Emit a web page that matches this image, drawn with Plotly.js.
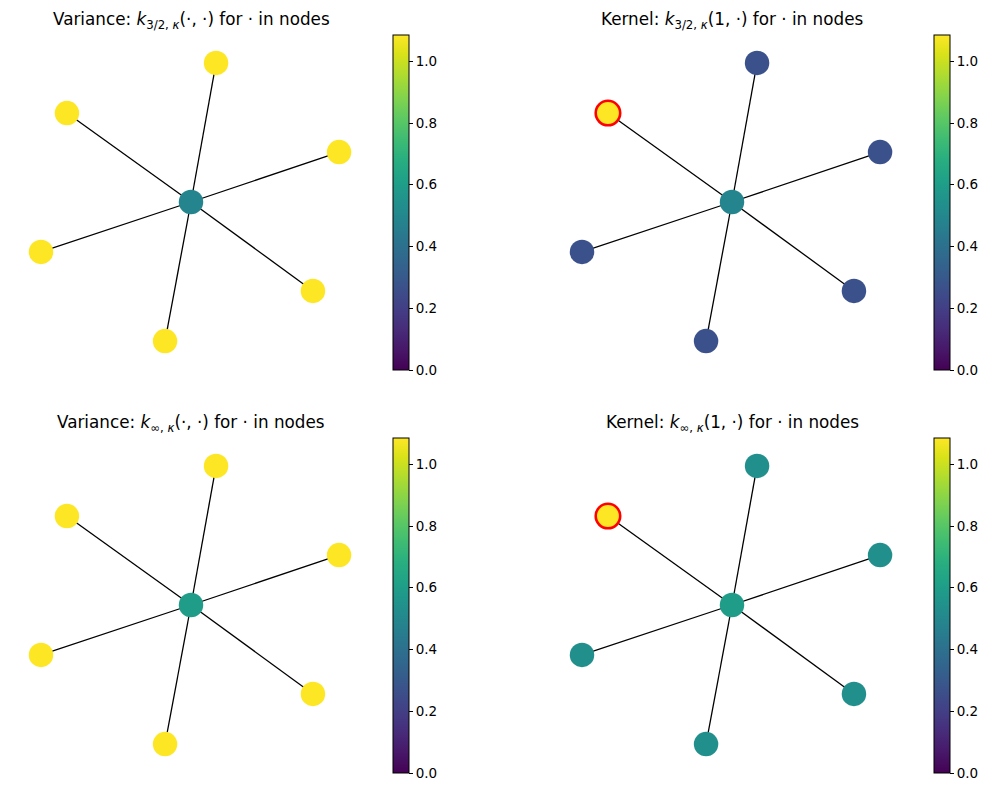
<!DOCTYPE html>
<html>
<head>
<meta charset="utf-8">
<script src="https://cdn.plot.ly/plotly-3.0.1.min.js"></script>
<style>body{margin:0;background:#fff}#chart{width:992px;height:792px}</style>
</head>
<body>
<div id="chart"></div>
<script>
// Node layout (star graph, node 0 = hub)
var nodeIds = [0, 1, 2, 3, 4, 5, 6];
var nodeX = [0, -0.827, 0.167, 0.987, 0.813, -0.173, -1.0];
var nodeY = [0, 0.593, 0.927, 0.333, -0.593, -0.927, -0.333];
var edgeFrom = [0, 0, 0, 0, 0, 0];
var edgeTo = [1, 2, 3, 4, 5, 6];
var highlightNode = 1;

// Values per node
var variance32 = [0.49, 1.085, 1.085, 1.085, 1.085, 1.085, 1.085];
var kernel32   = [0.49, 1.085, 0.27, 0.27, 0.27, 0.27, 0.27];
var varianceInf = [0.60, 1.085, 1.085, 1.085, 1.085, 1.085, 1.085];
var kernelInf   = [0.60, 1.085, 0.54, 0.54, 0.54, 0.54, 0.54];

var colorMin = 0, colorMax = 1.085;
var cbTicks = [0, 0.2, 0.4, 0.6, 0.8, 1.0];
var cbTickText = ["0.0", "0.2", "0.4", "0.6", "0.8", "1.0"];

var titles = [
  "Variance: <i>k</i><sub>3/2, <i>κ</i></sub>(·, ·) for · in nodes",
  "Kernel: <i>k</i><sub>3/2, <i>κ</i></sub>(1, ·) for · in nodes",
  "Variance: <i>k</i><sub>∞, <i>κ</i></sub>(·, ·) for · in nodes",
  "Kernel: <i>k</i><sub>∞, <i>κ</i></sub>(1, ·) for · in nodes"
];
var panelValues = [variance32, kernel32, varianceInf, kernelInf];
var highlighted = [false, true, false, true];

var W = 992, H = 792;
var S = 150; // px per data unit
// panel centres (px)
var centres = [[191, 202], [732, 202], [191, 605], [732, 605]];
var half = 170;  // domain half-width px
var halfH = 169;

var edgeXs = [], edgeYs = [];
for (var i = 0; i < edgeFrom.length; i++) {
  edgeXs.push(nodeX[edgeFrom[i]], nodeX[edgeTo[i]], null);
  edgeYs.push(nodeY[edgeFrom[i]], nodeY[edgeTo[i]], null);
}

var data = [];
var layout = {
  width: W, height: H,
  margin: {l: 0, r: 0, t: 0, b: 0},
  paper_bgcolor: "#fff", plot_bgcolor: "#fff",
  showlegend: false,
  font: {family: "DejaVu Sans", color: "#000"},
  annotations: []
};

for (var p = 0; p < 4; p++) {
  var ax = p === 0 ? "" : String(p + 1);
  var cx = centres[p][0], cy = centres[p][1];
  var x0 = cx - half, x1 = cx + half;
  var y0 = cy - halfH, y1 = cy + halfH;
  layout["xaxis" + ax] = {
    domain: [x0 / W, x1 / W],
    range: [(x0 - cx) / S, (x1 - cx) / S],
    visible: false, fixedrange: true
  };
  layout["yaxis" + ax] = {
    domain: [1 - y1 / H, 1 - y0 / H],
    range: [-(y1 - cy) / S, -(y0 - cy) / S],
    visible: false, fixedrange: true
  };
  data.push({
    type: "scatter", mode: "lines",
    x: edgeXs, y: edgeYs,
    xaxis: "x" + ax, yaxis: "y" + ax,
    line: {color: "#000", width: 1.3},
    hoverinfo: "skip"
  });
  var lw = [], lc = [];
  for (var n = 0; n < nodeIds.length; n++) {
    var h = highlighted[p] && nodeIds[n] === highlightNode;
    lw.push(h ? 2.6 : 0);
    lc.push(h ? "#ff0000" : "rgba(0,0,0,0)");
  }
  var cbLeft = cx + 202, cbTop = cy - 167;
  data.push({
    type: "scatter", mode: "markers",
    x: nodeX, y: nodeY, text: nodeIds.map(String),
    xaxis: "x" + ax, yaxis: "y" + ax,
    marker: {
      size: 24.5,
      color: panelValues[p],
      colorscale: "Viridis",
      cmin: colorMin, cmax: colorMax,
      line: {width: lw, color: lc},
      showscale: true,
      colorbar: {
        x: cbLeft / W, xanchor: "left", xpad: 0,
        y: 1 - cbTop / H, yanchor: "top", ypad: 0,
        len: 335, lenmode: "pixels",
        thickness: 16, thicknessmode: "pixels",
        outlinewidth: 1, outlinecolor: "#000",
        ticks: "outside", ticklen: 4, tickwidth: 1, tickcolor: "#000",
        tickvals: cbTicks, ticktext: cbTickText,
        tickfont: {family: "DejaVu Sans", size: 13.5, color: "#000"}
      }
    },
    hoverinfo: "text"
  });
  layout.annotations.push({
    xref: "paper", yref: "paper",
    x: cx / W, y: 1 - (cy - 182) / H,
    xanchor: "center", yanchor: "middle",
    text: titles[p], showarrow: false,
    font: {family: "DejaVu Sans", size: 16.8, color: "#000"}
  });
}

Plotly.newPlot("chart", data, layout, {displayModeBar: false, staticPlot: true});
</script>
</body>
</html>
